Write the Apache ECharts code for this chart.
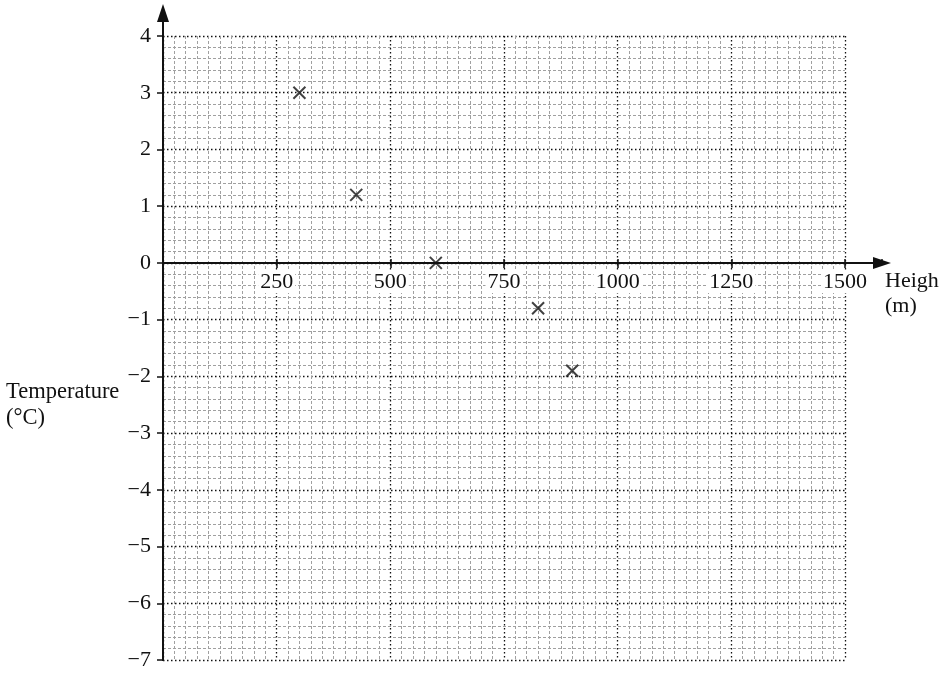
<!DOCTYPE html>
<html>
<head>
<meta charset="utf-8">
<script src="https://cdn.jsdelivr.net/npm/echarts@6/dist/echarts.min.js"></script>
<style>
html,body{margin:0;padding:0;background:#fff;}
#chart{width:941px;height:674px;}
</style>
</head>
<body>
<div id="chart"></div>
<script>
// Data
const heights = [300, 425, 600, 825, 900];
const temps = [3, 1.2, 0, -0.8, -1.9];
const xTicks = [0, 250, 500, 750, 1000, 1250, 1500];
const yTicks = [-7, -6, -5, -4, -3, -2, -1, 0, 1, 2, 3, 4];

const X_MIN = 0, X_MAX = 1500, X_STEP = 250;
const Y_MIN = -7, Y_MAX = 4, Y_STEP = 1;

// Layout (pixels)
const L = 163, R = 845, T = 36, B = 660;
const AX_R = 882, AX_T = 13; // arrow centres
const xMaxExt = X_MIN + (X_MAX - X_MIN) * (AX_R - L) / (R - L);
const yMaxExt = Y_MIN + (Y_MAX - Y_MIN) * (B - AX_T) / (B - T);
const zeroPx = T + (Y_MAX - 0) / (Y_MAX - Y_MIN) * (B - T);

const FONT = '"Liberation Serif", "Times New Roman", serif';
const fmtY = v => v < 0 ? '\u2212' + (-v) : String(v);
const fmtX = v => (v === 0 || xTicks.indexOf(v) < 0) ? '' : String(v);

const chart = echarts.init(document.getElementById('chart'));
chart.setOption({
  backgroundColor: '#fff',
  animation: false,
  grid: [
    {left: L, top: T, width: R - L, height: B - T, containLabel: false, outerBoundsMode: 'none'},
    {left: L, top: AX_T, width: AX_R - L, height: B - AX_T, containLabel: false, outerBoundsMode: 'none'}
  ],
  xAxis: [
    {
      type: 'value', gridIndex: 0, min: X_MIN, max: X_MAX, interval: X_STEP,
      position: 'bottom', offset: -(B - zeroPx),
      axisLine: {show: true, onZero: false, lineStyle: {color: '#111', width: 2}},
      axisTick: {show: true, length: 5, lineStyle: {color: '#111', width: 1.5}},
      axisLabel: {show: true, formatter: fmtX, margin: 8, color: '#111', fontFamily: FONT, fontSize: 22,
        backgroundColor: '#fff', padding: [0, 2, 0, 2]},
      splitLine: {show: true, lineStyle: {color: '#111', width: 1.3, type: [1.5, 2.5]}},
      minorTick: {show: false, splitNumber: 10},
      minorSplitLine: {show: true, lineStyle: {color: '#a0a0a0', width: 1, type: [3, 2]}}
    },
    {
      type: 'value', gridIndex: 1, min: X_MIN, max: xMaxExt, interval: X_STEP,
      axisLine: {show: true, onZero: true, symbol: ['none', 'triangle'], symbolSize: [12, 18],
        lineStyle: {color: '#111', width: 2}},
      axisTick: {show: true, inside: true, length: 4, lineStyle: {color: '#111', width: 1.5}},
      axisLabel: {show: false}, splitLine: {show: false},
      name: 'Heigh\n(m)', nameLocation: 'end', nameGap: 3,
      nameTextStyle: {color: '#111', fontFamily: FONT, fontSize: 22, align: 'left',
        verticalAlign: 'top', lineHeight: 25, padding: [6, 0, 0, 0]}
    }
  ],
  yAxis: [
    {
      type: 'value', gridIndex: 0, min: Y_MIN, max: Y_MAX, interval: Y_STEP,
      axisLine: {show: true, onZero: false, lineStyle: {color: '#111', width: 2}},
      axisTick: {show: true, length: 6, lineStyle: {color: '#111', width: 1.5}},
      axisLabel: {show: true, formatter: fmtY, margin: 12, color: '#111', fontFamily: FONT, fontSize: 22},
      splitLine: {show: true, lineStyle: {color: '#111', width: 1.3, type: [1.5, 2.5]}},
      minorTick: {show: false, splitNumber: 5},
      minorSplitLine: {show: true, lineStyle: {color: '#a0a0a0', width: 1, type: [3, 2]}}
    },
    {
      type: 'value', gridIndex: 1, min: Y_MIN, max: yMaxExt,
      axisLine: {show: true, onZero: false, symbol: ['none', 'triangle'], symbolSize: [12, 18],
        lineStyle: {color: '#111', width: 2}},
      axisTick: {show: false}, axisLabel: {show: false}, splitLine: {show: false}
    }
  ],
  graphic: [
    {type: 'text', left: 6, top: 379,
      style: {text: 'Temperature\n(°C)', fill: '#111', font: '22.5px ' + FONT, lineHeight: 26}}
  ],
  series: [
    {
      type: 'scatter', xAxisIndex: 0, yAxisIndex: 0,
      data: heights.map((h, i) => [h, temps[i]]),
      symbol: 'path://M0,0L10,10M10,0L0,10',
      symbolSize: 12,
      itemStyle: {color: 'rgba(0,0,0,0)', borderColor: '#111', borderWidth: 2},
      z: 10
    }
  ]
});
</script>
</body>
</html>
